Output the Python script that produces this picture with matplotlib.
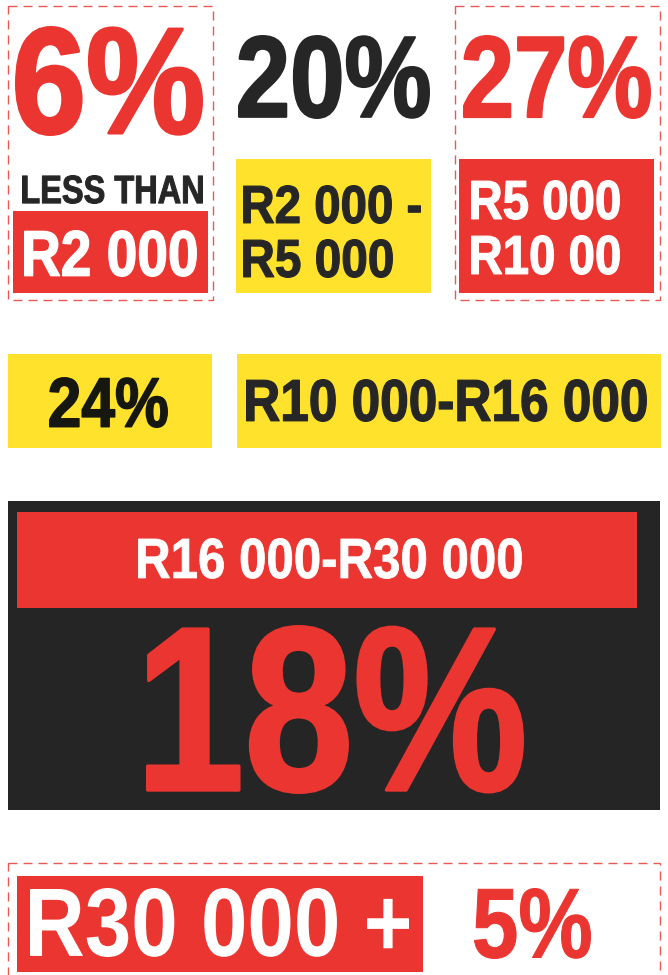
import matplotlib
matplotlib.use("Agg")
import matplotlib.pyplot as plt
from matplotlib.patches import Rectangle
from matplotlib.patheffects import AbstractPathEffect
from matplotlib.transforms import Affine2D

# share of people per income bracket
shares = [6, 20, 27, 24, 18, 5]
brackets = ["LESS THAN\nR2 000", "R2 000 -\nR5 000", "R5 000\nR10 00",
            "R10 000-R16 000", "R16 000-R30 000", "R30 000 +"]

RED = "#eb3530"
YELLOW = "#ffe22b"
DARK = "#262626"
BLACKBOX = "#252525"
DASH = "#ea5a55"

plt.rcParams["font.family"] = ["Liberation Sans", "DejaVu Sans"]

fig = plt.figure(figsize=(6.68, 9.75), dpi=100)
ax = fig.add_axes([0, 0, 1, 1])
ax.set_xlim(0, 668)
ax.set_ylim(975, 0)
ax.axis("off")
renderer = fig.canvas.get_renderer()


class FitBox(AbstractPathEffect):
    # squeeze the glyph outlines into the ink box measured on the poster,
    # with a thin outline in the same colour to get the heavier weight
    def __init__(self, box, trans, stroke):
        super().__init__()
        self.box = box
        self.trans = trans
        self.stroke = stroke

    def draw_path(self, renderer, gc, tpath, affine, rgbFace=None):
        ink = tpath.get_extents(affine)
        l, t, r, b = self.box
        (x0, y0), (x1, y1) = self.trans.transform([(l, b), (r, t)])
        h = self.stroke / 2
        x0, x1, y0, y1 = x0 + h, x1 - h, y0 + h, y1 - h
        fit = (Affine2D().translate(-ink.x0, -ink.y0)
               .scale((x1 - x0) / ink.width, (y1 - y0) / ink.height)
               .translate(x0, y0))
        gc0 = renderer.new_gc()
        gc0.copy_properties(gc)
        gc0.set_foreground(rgbFace)
        gc0.set_linewidth(self.stroke * 72 / 100)
        gc0.set_joinstyle("round")
        renderer.draw_path(gc0, tpath, affine + fit, rgbFace)
        gc0.restore()


def put(s, box, color, weight=0.026):
    l, t, r, b = box
    txt = ax.text(l, b, s, color=color, fontsize=20, fontweight="bold",
                  ha="left", va="baseline")
    # size the text so its own extent matches the box width
    w = txt.get_window_extent(renderer).width
    txt.set_fontsize(20 * (r - l) / w)
    txt.set_path_effects([FitBox(box, ax.transData, weight * (b - t))])


def rect(x0, y0, x1, y1, color):
    ax.add_patch(Rectangle((x0, y0), x1 - x0, y1 - y0, facecolor=color,
                           edgecolor="none"))


def dashed(x0, y0, x1, y1):
    ax.add_patch(Rectangle((x0, y0), x1 - x0, y1 - y0, facecolor="none",
                           edgecolor=DASH, linewidth=1.0,
                           linestyle=(0, (6.5, 4.3))))


# top row
dashed(8, 6, 213, 300)
dashed(455, 6, 660, 300)
rect(13, 211, 208, 293, RED)
rect(236, 159, 431, 293, YELLOW)
rect(459, 159, 654, 293, RED)

put(f"{shares[0]}%", (15, 26, 203, 136), RED)
l1, l2 = brackets[0].split("\n")
put(l1, (22, 175, 203, 204), DARK, 0.035)
put(l2, (24, 230, 197, 277), "white", 0.03)

put(f"{shares[1]}%", (238, 35, 430, 119), DARK)
l1, l2 = brackets[1].split("\n")
put(l1, (243, 185, 421, 224), DARK, 0.03)
put(l2, (243, 239, 393, 278), DARK, 0.03)

put(f"{shares[2]}%", (463, 35, 651, 119), RED)
l1, l2 = brackets[2].split("\n")
put(l1, (471, 180, 620, 220), "white", 0.03)
put(l2, (471, 235, 620, 275), "white", 0.03)

# middle row
rect(8, 354, 212, 448, YELLOW)
rect(237, 354, 661, 448, YELLOW)
put(f"{shares[3]}%", (49, 377, 168, 428), "#171711", 0.03)
put(brackets[3], (246, 379, 647, 422), DARK, 0.03)

# big panel
rect(8, 501, 660, 810, BLACKBOX)
rect(17, 512, 637, 608, RED)
put(brackets[4], (138, 538, 522, 579), "white", 0.02)
put(f"{shares[4]}%", (146, 625, 524, 794), RED, 0.02)

# bottom row
dashed(8, 863, 660, 1000)
rect(17, 876, 423, 972, RED)
put(brackets[5], (30, 888, 409, 957), "white", 0.0)
put(f"{shares[5]}%", (474, 888, 591, 959), RED, 0.015)

fig.savefig("out.png", dpi=100)
